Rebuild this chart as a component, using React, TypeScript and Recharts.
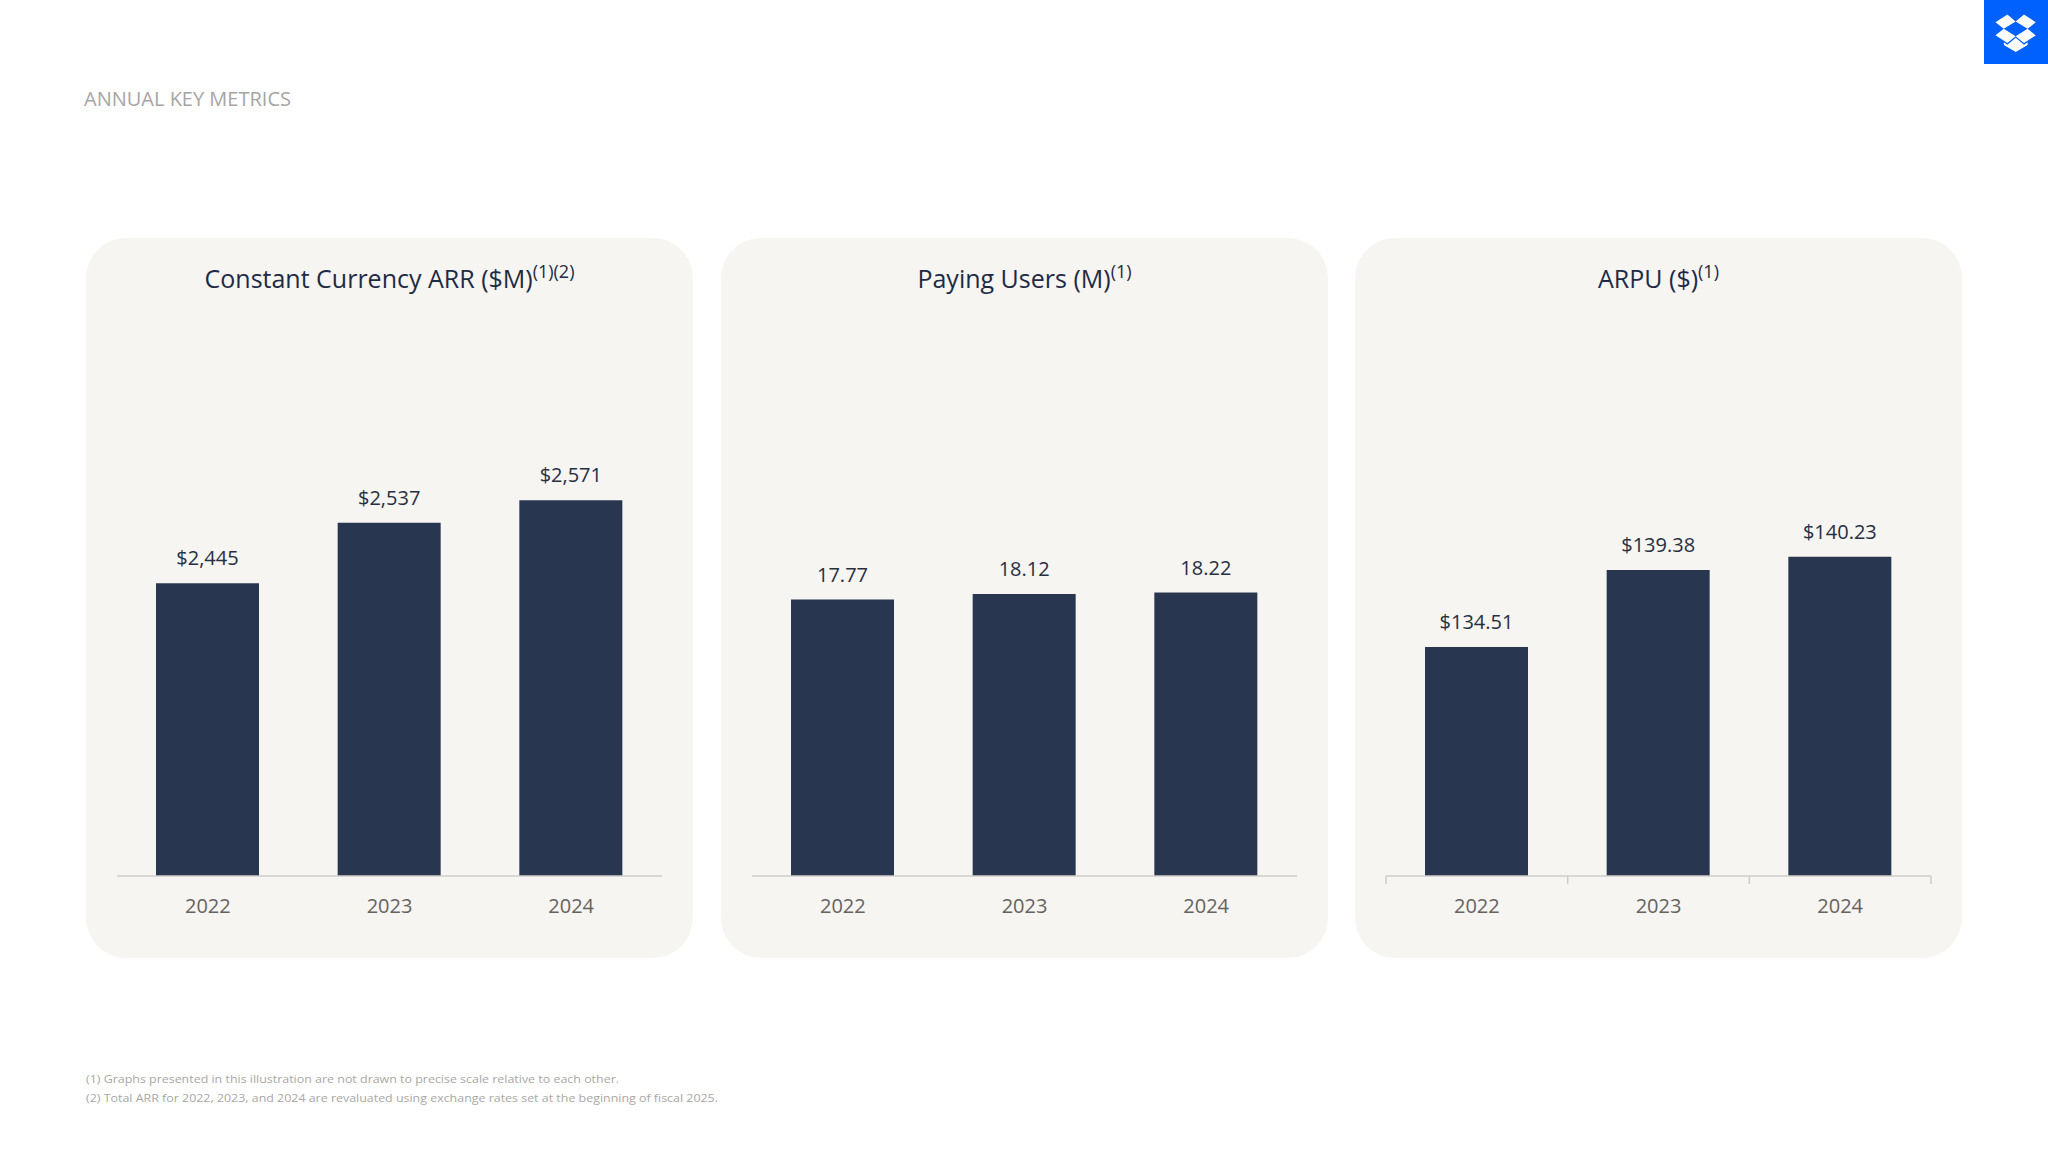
import React from 'react';
import { BarChart, Bar, XAxis, YAxis, LabelList } from 'recharts';

const categories = ['2022', '2023', '2024'];
const arrValues = [2445, 2537, 2571];
const usersValues = [17.77, 18.12, 18.22];
const arpuValues = [134.51, 139.38, 140.23];

const panelTitles = ['Constant Currency ARR ($M)', 'Paying Users (M)', 'ARPU ($)'];
const panelNotes = ['(1)(2)', '(1)', '(1)'];
const headerText = 'ANNUAL KEY METRICS';
const footnotes = [
  '(1) Graphs presented in this illustration are not drawn to precise scale relative to each other.',
  '(2) Total ARR for 2022, 2023, and 2024 are revaluated using exchange rates set at the beginning of fiscal 2025.',
];

const FONT = '"Open Sans", "Noto Sans", sans-serif';
const BAR = '#283650';
const PANEL_BG = '#f6f5f2';
const PANEL_LEFTS = [86, 721, 1355];
const PANEL_TOP = 238;
const PANEL_W = 607;
const PANEL_H = 720;
const CHART_TOP = 300;
const CHART_H = 626;
const AXIS_H = 50;
const M_SIDE = 31;
const HALF_BAND = (PANEL_W - 2 * M_SIDE) / categories.length / 2;

const fmtArr = (v: number) => '$' + v.toLocaleString('en-US');
const fmtUsers = (v: number) => v.toFixed(2);
const fmtArpu = (v: number) => '$' + v.toFixed(2);

const makeTick = (boundaries: boolean) => (props: any) => {
  const { x, y, payload, index, visibleTicksCount } = props;
  const half = HALF_BAND;
  return (
    <g>
      {boundaries && (
        <line x1={x - half} x2={x - half} y1={y} y2={y + 8} stroke="#cfcdca" strokeWidth={1.5} />
      )}
      {boundaries && index === (visibleTicksCount ?? 3) - 1 && (
        <line x1={x + half} x2={x + half} y1={y} y2={y + 8} stroke="#cfcdca" strokeWidth={1.5} />
      )}
      <text x={x} y={y + 37} textAnchor="middle" fill="#66625e" fontSize={20} fontFamily={FONT}>
        {payload.value}
      </text>
    </g>
  );
};

type PanelProps = {
  values: number[];
  domain: [number, number];
  fmt: (v: number) => string;
  left: number;
  boundaries: boolean;
};

function Panel({ values, domain, fmt, left, boundaries }: PanelProps) {
  const data = categories.map((c, i) => ({ year: c, value: values[i] }));
  return (
    <div style={{ position: 'absolute', left, top: CHART_TOP, width: PANEL_W, height: CHART_H }}>
      <BarChart
        width={PANEL_W}
        height={CHART_H}
        data={data}
        margin={{ top: 0, right: M_SIDE, bottom: 0, left: M_SIDE }}
      >
        <XAxis
          dataKey="year"
          height={AXIS_H}
          axisLine={{ stroke: '#cfcdca', strokeWidth: 1.5 }}
          tickLine={false}
          tickSize={0}
          tickMargin={0}
          interval={0}
          tick={makeTick(boundaries)}
        />
        <YAxis hide domain={domain} allowDataOverflow type="number" />
        <Bar dataKey="value" fill={BAR} barSize={103} isAnimationActive={false}>
          <LabelList
            dataKey="value"
            position="top"
            offset={18}
            formatter={(v: any) => fmt(Number(v))}
            style={{ fill: '#262f40', fontSize: 20, fontFamily: FONT }}
          />
        </Bar>
      </BarChart>
    </div>
  );
}

export default function App() {
  return (
    <div style={{ position: 'absolute', left: 0, top: 0, width: 2048, height: 1152, background: '#ffffff', overflow: 'hidden' }}>
      <svg width={2048} height={1152} style={{ position: 'absolute', left: 0, top: 0 }}>
        <text x={84} y={106} fontSize={20} fill="#a7a5a3" fontFamily={FONT}>
          {headerText}
        </text>
        {PANEL_LEFTS.map((l, i) => (
          <g key={i}>
            <rect x={l} y={PANEL_TOP} width={PANEL_W} height={PANEL_H} rx={40} ry={40} fill={PANEL_BG} />
            <text x={l + PANEL_W / 2} y={288} textAnchor="middle" fontSize={25} fill="#1f2a44" fontFamily={FONT}>
              {panelTitles[i]}
              <tspan fontSize={18} dy={-10}>{panelNotes[i]}</tspan>
            </text>
          </g>
        ))}
        <text x={86} y={1083} fontSize={11} fill="#a9a7a5" fontFamily={FONT} textLength={533} lengthAdjust="spacingAndGlyphs">
          {footnotes[0]}
        </text>
        <text x={86} y={1102} fontSize={11} fill="#a9a7a5" fontFamily={FONT} textLength={632} lengthAdjust="spacingAndGlyphs">
          {footnotes[1]}
        </text>
        <rect x={1984} y={0} width={64} height={64} fill="#0061fe" />
        <g transform="translate(1995.5 14.5) scale(0.95)">
          <path
            fill="#ffffff"
            d="M12.5 0L0 8.1l8.7 7 12.5-7.8L12.5 0zM0 21.9l12.5 8.2 8.7-7.3-12.5-7.7L0 21.9zm21.2 0.9l8.8 7.3 12.4-8.1-8.6-6.9-12.6 7.7zM42.4 8.2L30 0l-8.8 7.3 12.6 7.8 8.6-6.9zM21.3 24.5l-8.8 7.3-3.7-2.5v2.8l12.5 7.5 12.5-7.5v-2.8l-3.8 2.5-8.7-7.3z"
          />
        </g>
      </svg>
      <Panel values={arrValues} domain={[2000, 2875.4]} fmt={fmtArr} left={PANEL_LEFTS[0]} boundaries={false} />
      <Panel values={usersValues} domain={[0, 37.02]} fmt={fmtUsers} left={PANEL_LEFTS[1]} boundaries={false} />
      <Panel values={arpuValues} domain={[120, 156.49]} fmt={fmtArpu} left={PANEL_LEFTS[2]} boundaries={true} />
    </div>
  );
}
